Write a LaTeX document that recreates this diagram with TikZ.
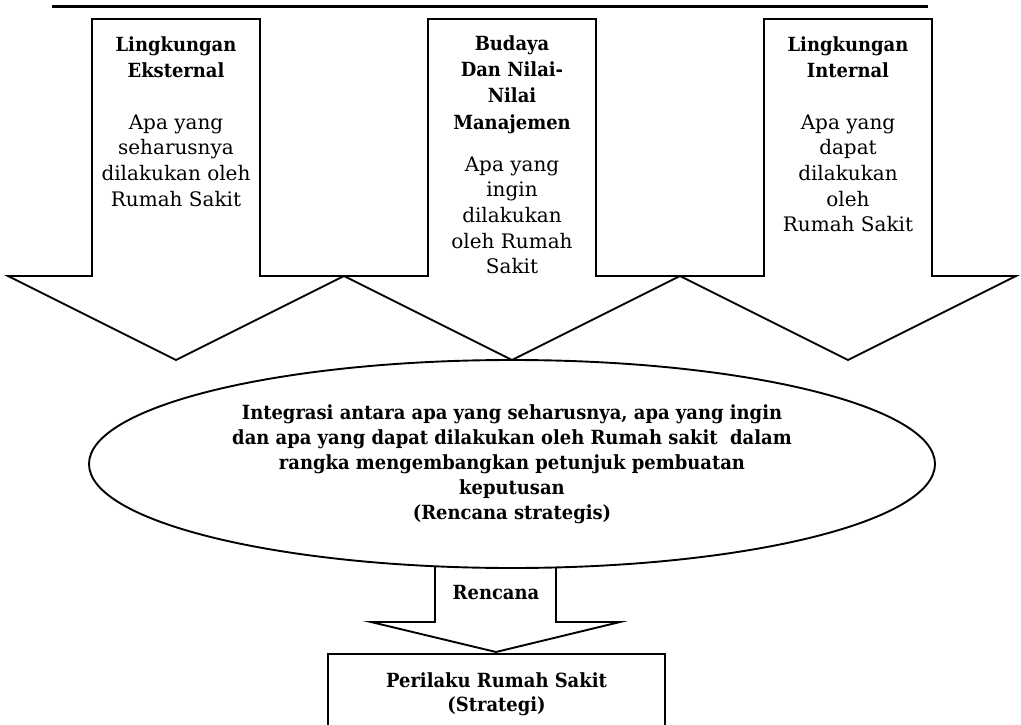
\documentclass[tikz,border=0pt]{standalone}
\usepackage{fontspec}
\setmainfont{DejaVu Serif}[BoldFeatures={FakeStretch=0.92}]
\usetikzlibrary{shapes.geometric}
\begin{document}
\begin{tikzpicture}[x=1pt, y=-1pt, line join=miter,
  outline/.style={draw=black, line width=1.9pt},
  txt/.style={font=\fontsize{20}{25.6}\selectfont, align=center, inner sep=0pt},
  ttl/.style={align=center, inner sep=0pt, font=\fontsize{19.5}{26.4}\selectfont\bfseries},
  bigarrow/.pic={
    \draw[outline, fill=white] (-84,19) -- (84,19) -- (84,276) -- (168,276)
      -- (0,360) -- (-168,276) -- (-84,276) -- cycle;
  }
]
\clip (0,0) rectangle (1021,725);

% rule across the top
\coordinate (ruleL) at (52,7);
\coordinate (ruleR) at (928,7);
\draw[line width=3pt] (ruleL) -- (ruleR);

% three downward block arrows
\pic at (176,0) {bigarrow};
\pic at (512,0) {bigarrow};
\pic at (848,0) {bigarrow};

\node[ttl, anchor=north] (ext) at (176,36) {Lingkungan\\Eksternal};
\node[txt, anchor=north] (extq) at (176,114.5) {Apa yang\\seharusnya\\dilakukan oleh\\Rumah Sakit};

\node[ttl, anchor=north] (bud) at (512,35) {Budaya\\Dan Nilai-\\Nilai\\Manajemen};
\node[txt, anchor=north] (budq) at (512,156.5) {Apa yang\\ingin\\dilakukan\\oleh Rumah\\Sakit};

\node[ttl, anchor=north] (int) at (848,36) {Lingkungan\\Internal};
\node[txt, anchor=north] (intq) at (848,114.5) {Apa yang\\dapat\\dilakukan\\oleh\\Rumah Sakit};

% integration ellipse
\node[ttl, font=\fontsize{19.5}{25}\selectfont\bfseries, outline, ellipse,
      minimum width=846pt, minimum height=208pt] (plan) at (512,464)
  {Integrasi antara apa yang seharusnya, apa yang ingin\\
   dan apa yang dapat dilakukan oleh Rumah sakit~ dalam\\
   rangka mengembangkan petunjuk pembuatan\\
   keputusan\\
   (Rencana strategis)};

% small arrow to the strategy box
\draw[outline] (435,567) -- (435,622) -- (371,622) -- (496,652) -- (620,622)
  -- (556,622) -- (556,567);
\node[ttl] (ren) at (496,593) {Rencana};

\node[ttl, font=\fontsize{19.5}{24}\selectfont\bfseries, outline, rectangle,
      minimum width=337pt, minimum height=80pt] (beh) at (496.5,694)
  {Perilaku Rumah Sakit\\(Strategi)};
\end{tikzpicture}
\end{document}
